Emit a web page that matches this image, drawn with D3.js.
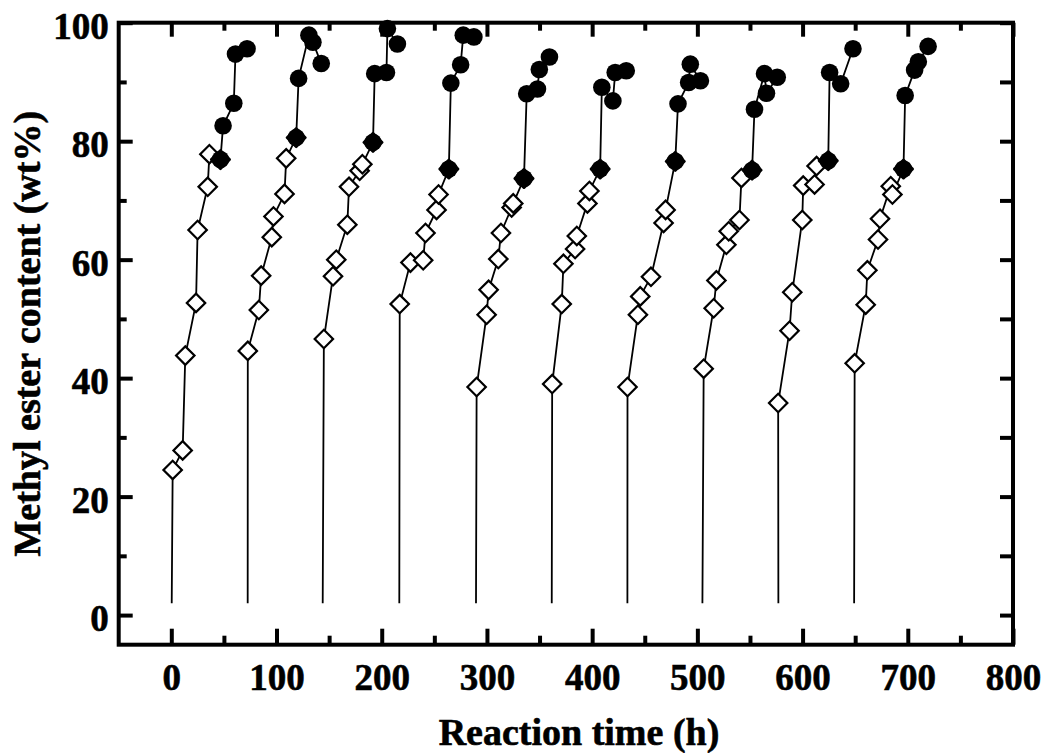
<!DOCTYPE html>
<html>
<head>
<meta charset="utf-8">
<script src="https://cdn.jsdelivr.net/npm/d3@7"></script>
<style>
  body { margin: 0; background: #fff; }
  svg { display: block; }
</style>
</head>
<body>
<div id="chart"></div>
<script>
// reaction time (h) where each batch starts, line rises from this content
var cycleStart = [0.4, 72.6, 143.9, 216.7, 289.6, 361.6, 433.5, 504.8, 577, 649];
var startContent = 2;

// open diamonds, one array per batch
var diamondTimes = [
	[1.3, 10.8, 13.3, 23.5, 25.0, 34.6, 36.2],
	[72.7, 83.2, 85.4, 95.5, 97.1, 107.6, 109.2],
	[145.0, 153.7, 156.8, 167.3, 168.9, 179.0, 181.6],
	[217.1, 227.3, 239.4, 241.6, 252.1, 254.0],
	[290.2, 299.7, 301.6, 310.8, 313.3, 323.5, 325.0],
	[362.0, 371.1, 372.7, 383.8, 385.4, 395.5, 397.4],
	[433.6, 443.5, 445.7, 455.9, 467.9, 469.8],
	[506.0, 515.5, 518.1, 527.6, 529.8, 540.0, 541.9],
	[576.8, 587.6, 590.2, 599.7, 600.6, 611.4, 613.3],
	[649.5, 660.0, 661.6, 671.7, 673.6, 683.8, 685.4]
];
var diamondValues = [
	[24.5, 27.8, 43.8, 52.7, 65.0, 72.3, 77.8],
	[44.6, 51.5, 57.3, 63.8, 67.3, 71.1, 77.1],
	[46.6, 57.2, 60.0, 65.9, 72.3, 75.0, 76.1],
	[52.5, 59.5, 59.9, 64.5, 68.4, 71.0],
	[38.5, 50.7, 54.9, 60.1, 64.5, 68.8, 69.5],
	[39.0, 52.5, 59.3, 61.8, 64.0, 69.5, 71.6],
	[38.5, 50.7, 53.8, 57.1, 66.2, 68.4],
	[41.6, 51.8, 56.5, 62.5, 64.8, 66.7, 73.8],
	[35.8, 48.0, 54.5, 66.7, 72.5, 72.7, 75.8],
	[42.5, 52.4, 58.2, 63.4, 66.9, 72.4, 71.0]
];

// filled diamond where each batch switches
var turnTimes = [46.7, 118.7, 191.7, 263.8, 335.2, 407.6, 479.0, 552.0, 624.4, 695.9];
var turnValues = [76.9, 80.6, 79.8, 75.3, 73.7, 75.3, 76.6, 75.1, 76.7, 75.3];

// filled circles
var circleTimes = [
	[49.2, 59.4, 61.0, 72.0],
	[121.0, 130.8, 134.6, 142.5],
	[193.3, 204.5, 205.4, 214.9],
	[265.7, 275.0, 277.5, 287.6],
	[337.8, 348.0, 349.8, 359.4],
	[409.2, 419.7, 421.9, 432.4],
	[481.6, 491.7, 493.3, 502.9],
	[554.3, 563.8, 565.7, 575.9],
	[625.7, 636.2, 647.9],
	[697.5, 706.5, 710.0, 719.3]
];
var circleValues = [
	[82.6, 86.4, 94.7, 95.6],
	[90.6, 97.9, 96.7, 93.1],
	[91.4, 91.6, 99.0, 96.4],
	[89.8, 92.9, 97.9, 97.6],
	[88.0, 88.8, 92.1, 94.2],
	[89.1, 86.8, 91.6, 91.9],
	[86.3, 89.9, 93.0, 90.2],
	[85.4, 91.4, 88.1, 90.8],
	[91.6, 89.7, 95.6],
	[87.7, 92.0, 93.4, 96.0]
];

var xTickValues = [0, 100, 200, 300, 400, 500, 600, 700, 800];
var xMinorValues = [50, 150, 250, 350, 450, 550, 650, 750];
var yTickValues = [0, 20, 40, 60, 80, 100];
var yMinorValues = [10, 30, 50, 70, 90];
var xDomain = [-50, 800];
var yDomain = [-5, 100];

var width = 1046,
	height = 753,
	plotLeft = 118.7,
	plotRight = 1013,
	plotTop = 22.7,
	plotBottom = 644.7,
	font = "'Liberation Serif', 'Times New Roman', serif";

var svg = d3.select("#chart").append("svg")
	.attr("width", width)
	.attr("height", height);

svg.append("rect")
	.attr("width", width)
	.attr("height", height)
	.attr("fill", "#fff");

var x = d3.scaleLinear().domain(xDomain).range([plotLeft, plotRight]);
var y = d3.scaleLinear().domain(yDomain).range([plotBottom, plotTop]);

function styleAxis(g, labels) {
	g.select(".domain").remove();
	g.selectAll(".tick line")
		.attr("stroke", "#000")
		.attr("stroke-width", 4);
	if (labels) {
		g.selectAll(".tick text")
			.attr("fill", "#000")
			.attr("stroke", "#000")
			.attr("stroke-width", 0.6)
			.style("font-family", font)
			.style("font-weight", "bold")
			.style("font-size", "37px");
	} else {
		g.selectAll(".tick text").remove();
	}
}

// bottom
svg.append("g")
	.attr("transform", "translate(0," + plotBottom + ")")
	.call(d3.axisBottom(x).tickValues(xTickValues).tickSizeInner(-16).tickSizeOuter(0).tickPadding(19).tickFormat(d3.format("d")))
	.call(styleAxis, true);
svg.append("g")
	.attr("transform", "translate(0," + plotBottom + ")")
	.call(d3.axisBottom(x).tickValues(xMinorValues).tickSizeInner(-9).tickSizeOuter(0))
	.call(styleAxis, false);

// top
svg.append("g")
	.attr("transform", "translate(0," + plotTop + ")")
	.call(d3.axisTop(x).tickValues(xTickValues).tickSizeInner(-14).tickSizeOuter(0))
	.call(styleAxis, false);
svg.append("g")
	.attr("transform", "translate(0," + plotTop + ")")
	.call(d3.axisTop(x).tickValues(xMinorValues).tickSizeInner(-8).tickSizeOuter(0))
	.call(styleAxis, false);

// left
var yAxisG = svg.append("g")
	.attr("transform", "translate(" + plotLeft + ",0)")
	.call(d3.axisLeft(y).tickValues(yTickValues).tickSizeInner(-14).tickSizeOuter(0).tickPadding(10))
	.call(styleAxis, true);
yAxisG.selectAll(".tick text").attr("dy", "0.42em");
svg.append("g")
	.attr("transform", "translate(" + plotLeft + ",0)")
	.call(d3.axisLeft(y).tickValues(yMinorValues).tickSizeInner(-8).tickSizeOuter(0))
	.call(styleAxis, false);

// right
svg.append("g")
	.attr("transform", "translate(" + plotRight + ",0)")
	.call(d3.axisRight(y).tickValues(yTickValues.concat(yMinorValues)).tickSizeInner(-13).tickSizeOuter(0))
	.call(styleAxis, false);

svg.append("rect")
	.attr("x", plotLeft)
	.attr("y", plotTop)
	.attr("width", plotRight - plotLeft)
	.attr("height", plotBottom - plotTop)
	.attr("fill", "none")
	.attr("stroke", "#000")
	.attr("stroke-width", 4);

// axis titles
svg.append("text")
	.attr("x", 579)
	.attr("y", 745)
	.style("fill", "#000")
	.style("stroke", "#000")
	.style("stroke-width", 0.6)
	.style("font-family", font)
	.style("font-weight", "bold")
	.style("font-size", "38px")
	.style("text-anchor", "middle")
	.text("Reaction time (h)");

svg.append("text")
	.attr("transform", "translate(40," + (plotTop + plotBottom) / 2 + ") rotate(-90)")
	.style("fill", "#000")
	.style("stroke", "#000")
	.style("stroke-width", 0.6)
	.style("font-family", font)
	.style("font-weight", "bold")
	.style("font-size", "38px")
	.style("text-anchor", "middle")
	.text("Methyl ester content (wt%)");

// data
var plot = svg.append("g");
var line = d3.line()
	.x(function(d) { return x(d[0]); })
	.y(function(d) { return y(d[1]); });

var diamond = d3.symbol().type(d3.symbolSquare).size(170);

cycleStart.forEach(function(t0, i) {
	var pts = [[t0, startContent]]
		.concat(d3.zip(diamondTimes[i], diamondValues[i]))
		.concat([[turnTimes[i], turnValues[i]]])
		.concat(d3.zip(circleTimes[i], circleValues[i]));
	plot.append("path")
		.attr("d", line(pts))
		.attr("fill", "none")
		.attr("stroke", "#000")
		.attr("stroke-width", 1.8);
});

cycleStart.forEach(function(t0, i) {
	var g = plot.append("g");
	g.selectAll(".open")
		.data(d3.zip(diamondTimes[i], diamondValues[i]))
		.enter().append("path")
		.attr("d", diamond)
		.attr("transform", function(d) { return "translate(" + x(d[0]) + "," + y(d[1]) + ") rotate(45)"; })
		.attr("fill", "#fff")
		.attr("stroke", "#000")
		.attr("stroke-width", 2.2);

	g.append("circle")
		.attr("cx", x(turnTimes[i]))
		.attr("cy", y(turnValues[i]))
		.attr("r", 8.8)
		.attr("fill", "#000");
	g.append("path")
		.attr("d", diamond)
		.attr("transform", "translate(" + x(turnTimes[i]) + "," + y(turnValues[i]) + ") rotate(45)")
		.attr("fill", "#000")
		.attr("stroke", "#000")
		.attr("stroke-width", 2.6)
		.attr("stroke-linejoin", "round");

	g.selectAll(".dot")
		.data(d3.zip(circleTimes[i], circleValues[i]))
		.enter().append("circle")
		.attr("cx", function(d) { return x(d[0]); })
		.attr("cy", function(d) { return y(d[1]); })
		.attr("r", 8.8)
		.attr("fill", "#000");
});
</script>
</body>
</html>
